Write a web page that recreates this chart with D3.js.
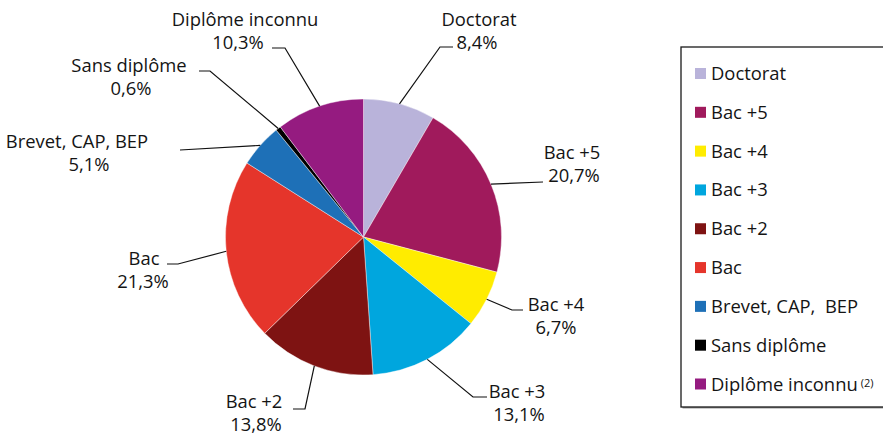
<!DOCTYPE html>
<html>
<head>
<meta charset="utf-8">
<script src="https://cdn.jsdelivr.net/npm/d3@7"></script>
<style>
	body { margin: 0; background: #fff; }
	svg { display: block; font-family: "Open Sans", sans-serif; }
	text { fill: #141414; white-space: pre; }
</style>
</head>
<body>
<div id="PieChart"></div>
<script>
// data
var categories = ["Doctorat", "Bac +5", "Bac +4", "Bac +3", "Bac +2", "Bac", "Brevet, CAP, BEP", "Sans diplôme", "Diplôme inconnu"];
var values = [8.4, 20.7, 6.7, 13.1, 13.8, 21.3, 5.1, 0.6, 10.3];
var legendLabels = ["Doctorat", "Bac +5", "Bac +4", "Bac +3", "Bac +2", "Bac", "Brevet, CAP,  BEP", "Sans diplôme", "Diplôme inconnu"];
var colors = ["#b9b3da", "#a01a5c", "#ffec00", "#00a6de", "#7e1312", "#e5352b", "#1e70b7", "#000000", "#951b80"];

// where each outside label and its leader line go (elbow may be null)
var labelLayout = [
	{ elbow: [440, 47], end: [453, 47], nx: 479, px: 477, y: 26 },
	{ elbow: null, end: [543, 182], nx: 572, px: 574, y: 159 },
	{ elbow: [512, 310], end: [523, 310], nx: 556, px: 556, y: 311 },
	{ elbow: [473, 397], end: [487, 397], nx: 517, px: 519, y: 398 },
	{ elbow: [305, 409], end: [293, 409], nx: 254, px: 256, y: 407.5 },
	{ elbow: [178, 264], end: [167, 264], nx: 144, px: 143, y: 265 },
	{ elbow: null, end: [180, 150], nx: 77, px: 89, y: 148 },
	{ elbow: [210, 71], end: [199, 71], nx: 129, px: 131, y: 72 },
	{ elbow: [285, 48], end: [272, 48], nx: 245, px: 238, y: 26 }
];

var width = 883, height = 435;
var cx = 363.5, cy = 237, radius = 138;
var fontSize = 18.4, lineGap = 23;

var svg = d3.select("#PieChart")
	.append("svg")
	.attr("width", width)
	.attr("height", height);

var color = d3.scaleOrdinal().domain(categories).range(colors);

var pie = d3.pie()
	.value(function(d, i) { return values[i]; })
	.sort(null);

var arcs = pie(categories);

var arc = d3.arc().innerRadius(0).outerRadius(radius);
var rim = d3.arc().innerRadius(radius).outerRadius(radius);

var g = svg.append("g").attr("transform", "translate(" + cx + "," + cy + ")");

g.selectAll("path.slice")
	.data(arcs)
	.enter()
	.append("path")
	.attr("class", "slice")
	.attr("d", arc)
	.attr("fill", function(d) { return color(d.data); })
	.attr("stroke", "#fff")
	.attr("stroke-width", 0.4);

// leader lines
var line = d3.line();
svg.selectAll("path.leader")
	.data(arcs)
	.enter()
	.append("path")
	.attr("class", "leader")
	.attr("fill", "none")
	.attr("stroke", "#111")
	.attr("stroke-width", 1.2)
	.attr("d", function(d, i) {
		var c = rim.centroid(d);
		var pts = [[cx + c[0], cy + c[1]]];
		var l = labelLayout[i];
		if (l.elbow) pts.push(l.elbow);
		pts.push(l.end);
		return line(pts);
	});

// slice labels
var labels = svg.selectAll("g.label")
	.data(arcs)
	.enter()
	.append("g")
	.attr("class", "label")
	.style("font-size", fontSize + "px");

labels.append("text")
	.attr("x", function(d, i) { return labelLayout[i].nx; })
	.attr("y", function(d, i) { return labelLayout[i].y; })
	.attr("text-anchor", "middle")
	.text(function(d) { return d.data; });

labels.append("text")
	.attr("x", function(d, i) { return labelLayout[i].px; })
	.attr("y", function(d, i) { return labelLayout[i].y + lineGap; })
	.attr("text-anchor", "middle")
	.text(function(d, i) { return d3.format(".1f")(values[i]).replace(".", ",") + "%"; });

// legend
var legendX = 681, legendTop = 47, legendBottom = 407;
var legend = svg.append("g");

legend.append("rect")
	.attr("x", legendX + 1.5)
	.attr("y", legendTop + 1.5)
	.attr("width", 220)
	.attr("height", legendBottom - legendTop)
	.attr("fill", "#9a9a9a");

legend.append("rect")
	.attr("x", legendX)
	.attr("y", legendTop)
	.attr("width", 220)
	.attr("height", legendBottom - legendTop)
	.attr("fill", "#fff")
	.attr("stroke", "#1a1a1a")
	.attr("stroke-width", 1.3);

var rowY = d3.scalePoint()
	.domain(categories)
	.range([73.5, 384]);

var rows = legend.selectAll("g.row")
	.data(categories)
	.enter()
	.append("g")
	.attr("class", "row")
	.attr("transform", function(d) { return "translate(" + (legendX + 14) + "," + rowY(d) + ")"; });

rows.append("rect")
	.attr("x", 0)
	.attr("y", -5.5)
	.attr("width", 11)
	.attr("height", 11)
	.attr("fill", function(d) { return color(d); });

var legendText = rows.append("text")
	.attr("x", 16)
	.attr("y", 6.5)
	.style("font-size", fontSize + "px")
	.text(function(d, i) { return legendLabels[i]; });

legendText.filter(function(d) { return d == "Diplôme inconnu"; })
	.append("tspan")
	.attr("dx", 3)
	.attr("dy", -4)
	.style("font-size", "11px")
	.text("(2)");
</script>
</body>
</html>
